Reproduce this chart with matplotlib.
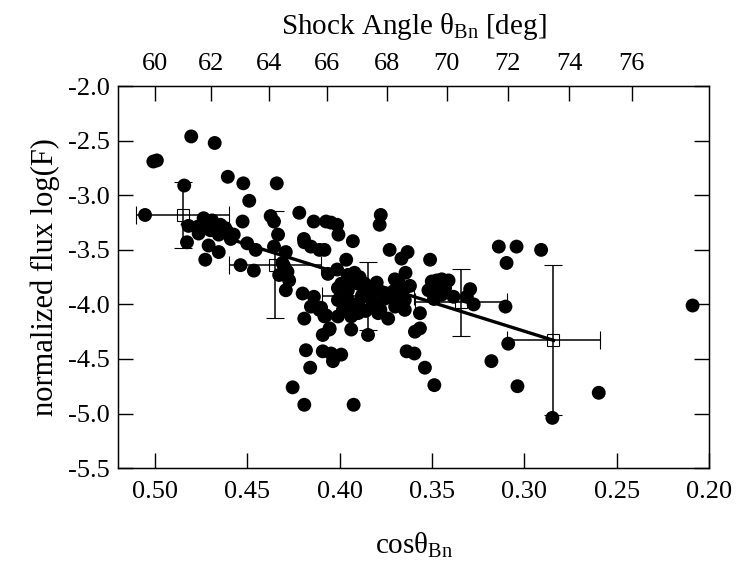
import numpy as np
import matplotlib
matplotlib.use("Agg")
import matplotlib.pyplot as plt

plt.rcParams['font.family'] = ['Liberation Serif', 'DejaVu Serif']
plt.rcParams['mathtext.fontset'] = 'custom'
plt.rcParams['mathtext.rm'] = 'Liberation Serif'
plt.rcParams['mathtext.it'] = 'Liberation Serif'
plt.rcParams['axes.unicode_minus'] = False

# individual events: cos(theta_Bn) and log normalized flux
cos_theta = [
    0.5054, 0.5009, 0.4990, 0.4804, 0.4677, 0.4842, 0.4606, 0.4522, 0.4341, 0.4490,
    0.4526, 0.4374, 0.4356, 0.4219, 0.4141, 0.4074, 0.4047, 0.4014, 0.3778, 0.3784,
    0.4334, 0.4194, 0.4007, 0.3929,
    0.4819, 0.4764, 0.4737, 0.4691, 0.4646, 0.4610, 0.4574, 0.4700, 0.4655, 0.4710,
    0.4655, 0.4827, 0.4728, 0.4773, 0.4501, 0.4455, 0.4537, 0.4465, 0.4720, 0.4620,
    0.4590,
    0.4310, 0.4283, 0.4328, 0.4274, 0.4292, 0.4292, 0.4356, 0.4192, 0.4156, 0.4110,
    0.4083, 0.3965, 0.4014, 0.4064, 0.4201, 0.4140, 0.4156, 0.4110, 0.4083, 0.4192,
    0.4055, 0.4092, 0.4183, 0.4092, 0.4037, 0.3992, 0.4047, 0.4160, 0.4255, 0.4192,
    0.3925, 0.4301, 0.3893,
    0.4010, 0.3983, 0.3938, 0.3956, 0.3901, 0.3865, 0.3829, 0.3792, 0.3792, 0.3901,
    0.3929, 0.3992, 0.4101, 0.4074, 0.4056, 0.3847, 0.3938, 0.4010, 0.3901, 0.3792,
    0.3738, 0.3956, 0.3920, 0.4010, 0.3974, 0.3865, 0.3757, 0.3702, 0.3648, 0.3648,
    0.3566, 0.3702, 0.3644, 0.3648, 0.3511, 0.3730, 0.3666, 0.3633,
    0.3502, 0.3475, 0.3448, 0.3411, 0.3484, 0.3520, 0.3430, 0.3384, 0.3448, 0.3294,
    0.3312, 0.3275, 0.3103, 0.3139, 0.3043, 0.2910, 0.3097, 0.3088, 0.3179, 0.3038,
    0.3488, 0.3539, 0.3638, 0.3596, 0.3566, 0.3593, 0.2598, 0.2849, 0.2090,
    0.3880, 0.3850, 0.3820, 0.3760, 0.3900, 0.3960, 0.3800, 0.3700, 0.3680, 0.3860,
    0.3940, 0.3780, 0.3680, 0.3620, 0.3710, 0.3490,
]
log_flux = [
    -3.18, -2.69, -2.68, -2.46, -2.52, -2.91, -2.83, -2.89, -2.89, -3.05,
    -3.24, -3.19, -3.24, -3.16, -3.24, -3.24, -3.25, -3.27, -3.18, -3.27,
    -3.36, -3.40, -3.36, -3.42,
    -3.28, -3.35, -3.21, -3.23, -3.27, -3.33, -3.36, -3.32, -3.36, -3.46,
    -3.52, -3.43, -3.59, -3.29, -3.44, -3.50, -3.64, -3.69, -3.25, -3.30,
    -3.40,
    -3.62, -3.70, -3.73, -3.78, -3.87, -3.52, -3.47, -3.43, -3.47, -3.50,
    -3.50, -3.59, -3.68, -3.72, -3.90, -3.93, -4.02, -4.05, -4.11, -4.13,
    -4.22, -4.28, -4.42, -4.43, -4.52, -4.46, -4.45, -4.58, -4.76, -4.92,
    -4.92, -3.65, -3.75,
    -3.96, -4.05, -4.11, -3.87, -3.81, -3.90, -3.96, -3.87, -4.02, -3.99,
    -3.75, -3.81, -4.03, -4.10, -4.23, -4.28, -4.23, -4.11, -4.08, -4.08,
    -4.13, -3.73, -3.71, -3.85, -3.82, -3.81, -3.90, -3.96, -3.96, -4.05,
    -4.08, -3.77, -3.71, -3.85, -3.59, -3.50, -3.58, -3.52,
    -3.79, -3.78, -3.77, -3.78, -3.87, -3.87, -3.85, -3.93, -3.91, -3.86,
    -3.93, -4.00, -4.02, -3.47, -3.47, -3.50, -3.62, -4.36, -4.52, -4.75,
    -4.74, -4.58, -4.43, -4.45, -4.22, -4.25, -4.81, -5.04, -4.01,
    -3.92, -3.85, -4.00, -3.95, -4.02, -3.94, -3.80, -4.02, -3.90, -4.06,
    -4.00, -4.05, -3.80, -3.83, -3.88, -3.95,
]

# binned means with error bars
mean_cos = [0.4851, 0.4352, 0.3848, 0.3343, 0.2843]
mean_log = [-3.18, -3.635, -3.92, -3.98, -4.325]
mean_cos_err = [0.025, 0.025, 0.025, 0.025, 0.025]
mean_log_err = [0.30, 0.49, 0.31, 0.305, 0.685]

# linear fit log(F) = intercept + slope * cos(theta)
fit_slope = 5.30
fit_intercept = -5.836
fit_range = [0.4851, 0.2843]

shock_angles = [60, 62, 64, 66, 68, 70, 72, 74, 76]
x_ticks = [0.50, 0.45, 0.40, 0.35, 0.30, 0.25, 0.20]
y_ticks = [-2.0, -2.5, -3.0, -3.5, -4.0, -4.5, -5.0, -5.5]

fig = plt.figure(figsize=(7.38, 5.75), dpi=100)
ax = fig.add_axes([0.160, 0.186, 0.801, 0.664])

ax.scatter(cos_theta, log_flux, s=100, c='black', edgecolors='none', zorder=2)

fx = np.array(fit_range)
ax.plot(fx, fit_intercept + fit_slope * fx, color='black', lw=2.4, zorder=3)

ax.errorbar(mean_cos, mean_log, xerr=mean_cos_err, yerr=mean_log_err,
            fmt='s', ms=9, mfc='none', mec='black', mew=0.8,
            ecolor='black', elinewidth=1.1, capsize=6.5, capthick=1.1, zorder=4)

ax.set_xlim(0.52, 0.20)
ax.set_ylim(-5.5, -2.0)
ax.set_xticks(x_ticks)
ax.set_xticklabels([f"{v:.2f}" for v in x_ticks])
ax.set_yticks(y_ticks)
ax.set_yticklabels([f"{v:.1f}" for v in y_ticks])
ax.tick_params(axis='both', direction='in', length=11, width=1.0, labelsize=19)
ax.tick_params(axis='x', pad=9)
ax.tick_params(axis='y', right=True, pad=6)
for sp in ax.spines.values():
    sp.set_linewidth(1.0)

ax.set_xlabel(r'cos$\theta_{\rm Bn}$', fontsize=21, labelpad=20)
ax.set_ylabel('normalized flux log(F)', fontsize=22, labelpad=6)

ax2 = ax.twiny()
ax2.set_xlim(ax.get_xlim())
ax2.set_xticks(np.cos(np.radians(shock_angles)))
ax2.set_xticklabels([str(a) for a in shock_angles])
ax2.tick_params(axis='x', direction='in', length=11, width=1.0, labelsize=19, pad=8)
ax2.set_xlabel(r'Shock Angle $\theta_{\rm Bn}$ [deg]', fontsize=21, labelpad=14)

fig.savefig('out.png', dpi=100)
